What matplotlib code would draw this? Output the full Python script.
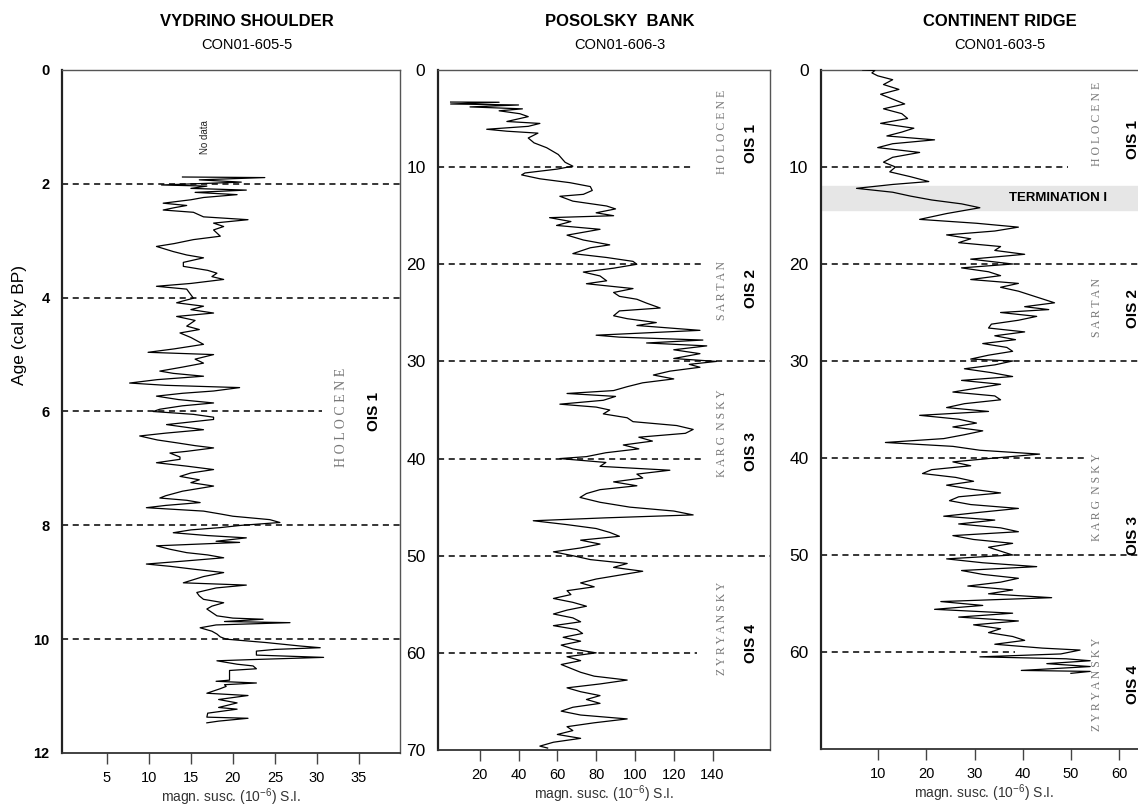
import numpy as np
import matplotlib
matplotlib.use("Agg")
import matplotlib.pyplot as plt

plt.rcParams['font.family'] = ['Liberation Sans', 'DejaVu Sans']
plt.rcParams['mathtext.default'] = 'regular'

# ---------------- data ----------------
# Vydrino Shoulder, CON01-605-5 : age (cal ky BP), magn. susc.
vyd_age = [1.88, 1.89, 1.93, 1.97, 2.02, 2.04, 2.08, 2.11, 2.15, 2.19, 2.24, 2.28, 2.34, 2.38, 2.42,
           2.46, 2.50, 2.58, 2.63, 2.69, 2.75, 2.81, 2.92, 2.98, 3.05, 3.10, 3.19, 3.25, 3.30, 3.38,
           3.45, 3.52, 3.57, 3.63, 3.68, 3.75, 3.80, 3.85, 3.95, 4.01, 4.06, 4.09, 4.15, 4.21, 4.27,
           4.33, 4.40, 4.50, 4.56, 4.62, 4.70, 4.82, 4.90, 4.96, 5.00, 5.08, 5.15, 5.22, 5.29, 5.33,
           5.38, 5.44, 5.50, 5.54, 5.58, 5.64, 5.68, 5.73, 5.79, 5.85, 5.90, 5.96, 6.00, 6.05, 6.10,
           6.14, 6.20, 6.23, 6.28, 6.32, 6.38, 6.43, 6.50, 6.55, 6.60, 6.64, 6.70, 6.73, 6.80, 6.84,
           6.90, 6.96, 7.02, 7.08, 7.14, 7.20, 7.25, 7.31, 7.40, 7.48, 7.52, 7.56, 7.60, 7.65, 7.69,
           7.75, 7.80, 7.84, 7.90, 7.95, 8.00, 8.04, 8.08, 8.13, 8.18, 8.22, 8.28, 8.30, 8.36, 8.42,
           8.48, 8.52, 8.57, 8.63, 8.68, 8.72, 8.77, 8.83, 8.90, 9.01, 9.05, 9.10, 9.18, 9.24, 9.30,
           9.36, 9.42, 9.47, 9.53, 9.59, 9.63, 9.65, 9.69, 9.71, 9.75, 9.80, 9.86, 9.91, 9.96, 10.00,
           10.06, 10.12, 10.15, 10.18, 10.21, 10.28, 10.32, 10.36, 10.38, 10.44, 10.47, 10.52, 10.55,
           10.65, 10.72, 10.74, 10.77, 10.80, 10.83, 10.87, 10.95, 10.99, 11.06, 11.12, 11.20, 11.23,
           11.30, 11.37, 11.39, 11.44, 11.47]
vyd_val = [14.0, 23.8, 16.0, 21.0, 11.5, 16.9, 15.0, 21.6, 15.5, 20.5, 16.5, 15.0, 11.7, 14.5, 13.0,
           11.7, 15.3, 16.5, 21.8, 17.7, 18.9, 17.7, 18.5, 15.3, 13.0, 10.9, 12.9, 14.5, 16.5, 14.1,
           14.1, 17.0, 18.1, 17.5, 18.9, 15.0, 10.9, 14.5, 15.0, 15.3, 14.0, 13.3, 16.5, 15.0, 17.7,
           13.3, 15.5, 14.5, 16.0, 13.7, 15.0, 16.5, 13.0, 9.9, 17.7, 15.5, 16.5, 14.0, 11.3, 12.9,
           16.5, 11.0, 7.7, 12.0, 20.8, 17.7, 14.0, 10.9, 13.5, 17.7, 14.0, 11.3, 10.5, 15.3, 17.7,
           17.7, 14.0, 12.1, 14.5, 16.5, 12.0, 8.9, 11.0, 13.3, 15.5, 17.7, 14.5, 12.5, 13.7, 13.7,
           10.9, 14.5, 17.7, 15.0, 13.7, 16.0, 15.0, 17.7, 14.0, 12.0, 11.3, 14.5, 16.1, 12.0, 9.7,
           16.5, 18.5, 20.0, 24.4, 25.6, 21.0, 18.5, 15.0, 12.9, 17.0, 21.6, 18.0, 20.8, 10.9, 12.5,
           14.5, 17.0, 18.9, 14.0, 9.7, 12.5, 15.3, 18.9, 16.5, 14.1, 21.6, 18.0, 15.7, 16.0, 16.5,
           18.9, 17.5, 16.9, 17.5, 18.1, 20.0, 23.6, 19.0, 26.8, 18.0, 16.1, 17.5, 18.1, 18.5, 19.2,
           24.0, 28.0, 30.4, 25.0, 22.8, 22.8, 30.8, 22.0, 18.1, 20.5, 22.4, 22.8, 19.6,
           19.6, 19.6, 18.0, 22.8, 19.0, 19.2, 18.5, 16.9, 21.8, 18.3, 20.5, 18.3, 20.5,
           17.0, 16.9, 21.8, 18.3, 16.9]

# Posolsky Bank, CON01-606-3
pos_age = [3.3, 3.32, 3.5, 3.6, 3.8, 4.0, 4.2, 4.5, 4.8, 5.3, 5.5, 5.8, 6.1, 6.3, 6.5, 7.0, 7.5, 8.0,
           8.7, 9.5, 9.9, 10.2, 10.6, 10.8, 11.2, 11.6, 12.0, 12.4, 12.8, 13.0, 13.5, 14.0, 14.3,
           14.7, 15.0, 15.2, 15.6, 16.0, 16.4, 17.0, 17.5, 18.0, 18.3, 18.9, 19.3, 19.7, 20.0, 20.4,
           20.8, 21.2, 21.7, 22.0, 22.5, 22.9, 23.3, 23.6, 24.0, 24.5, 24.8, 25.3, 25.6, 26.0, 26.3,
           26.8, 27.1, 27.3, 27.5, 27.8, 28.1, 28.4, 28.8, 29.2, 29.7, 30.0, 30.3, 30.6, 31.0, 31.4,
           31.8, 32.2, 32.6, 33.0, 33.3, 33.6, 34.0, 34.4, 34.7, 35.0, 35.4, 35.8, 36.2, 36.6, 37.0,
           37.4, 37.8, 38.2, 38.6, 39.0, 39.4, 39.8, 40.0, 40.4, 40.8, 41.2, 41.6, 42.0, 42.4, 42.8,
           43.2, 43.6, 44.0, 44.5, 45.0, 45.4, 45.8, 46.1, 46.4, 46.8, 47.2, 47.6, 48.0, 48.4, 48.8,
           49.2, 49.6, 50.0, 50.4, 50.8, 51.2, 51.6, 52.0, 52.4, 52.8, 53.2, 53.6, 54.0, 54.4, 54.8,
           55.2, 55.6, 56.0, 56.4, 56.8, 57.2, 57.6, 58.0, 58.4, 58.8, 59.2, 59.6, 60.0, 60.4, 60.8,
           61.2, 61.6, 62.0, 62.4, 62.8, 63.2, 63.6, 64.0, 64.4, 64.8, 65.2, 65.6, 66.0, 66.4, 66.8,
           67.2, 67.6, 68.0, 68.4, 68.8, 69.2, 69.6, 69.8]
pos_val = [5, 30, 5, 40, 15, 42, 30, 40.7, 45, 34, 51, 45, 23.6, 34, 50, 45, 48, 54.5,
           60.5, 64, 68, 60, 43.3, 41.6, 51, 66.5, 77, 78, 73.4, 61.3, 68, 85.4, 90,
           80, 89, 56, 67, 59.6, 82, 65, 73.4, 87, 77, 68, 85.4, 99, 101, 89,
           73.4, 82, 85.4, 75, 99, 89, 92, 101, 106, 113, 92, 89, 96, 111, 101,
           133.5, 102, 80, 92, 135, 106, 137, 120, 133.5, 120, 142, 128, 133.5, 118, 109.5,
           120, 104, 96, 89, 65, 90, 83.7, 61.3, 80, 87, 83.7, 96, 99, 121.5, 130,
           126, 102, 109, 94, 102, 85, 75, 61.3, 85, 82, 118, 101, 104, 89, 101,
           82, 75, 71.7, 82, 97.4, 120, 130, 85, 47.6, 65, 80, 87, 92, 72, 82,
           72, 58, 68, 77, 96, 89, 104, 92, 80, 72, 79, 65, 67, 58, 68,
           75, 65, 58, 68, 72, 58, 70, 73, 63, 72, 62, 68, 80, 65, 72,
           62, 67, 72, 79, 96, 82, 65, 72, 82, 75, 82, 68, 62, 72, 96,
           79, 65, 68, 60, 72, 58, 51, 55]

# Continent Ridge, CON01-603-5
con_age = [0.0, 0.05, 0.3, 0.6, 1.0, 1.5, 2.0, 2.5, 3.0, 3.5, 4.0, 4.5, 5.0, 5.5, 6.0, 6.4, 6.8, 7.2,
           7.6, 8.0, 8.5, 9.0, 9.5, 10.0, 10.5, 11.0, 11.5, 11.8, 12.2, 12.6, 13.0, 13.4, 13.8, 14.2,
           14.8, 15.4, 15.8, 16.2, 16.6, 17.0, 17.4, 17.8, 18.2, 18.6, 19.0, 19.5, 20.0, 20.4, 20.8,
           21.2, 21.6, 22.0, 22.4, 22.8, 23.2, 23.6, 24.0, 24.4, 24.7, 25.0, 25.4, 25.8, 26.2, 26.6,
           27.0, 27.4, 27.8, 28.2, 28.6, 29.0, 29.4, 29.8, 30.0, 30.4, 30.8, 31.2, 31.6, 32.0, 32.4,
           32.8, 33.2, 33.6, 34.0, 34.4, 34.8, 35.2, 35.6, 36.0, 36.4, 36.8, 37.2, 37.6, 38.0, 38.4,
           38.8, 39.2, 39.6, 40.0, 40.4, 40.8, 41.2, 41.6, 42.0, 42.4, 42.8, 43.2, 43.6, 44.0, 44.4,
           44.8, 45.2, 45.6, 46.0, 46.4, 46.8, 47.2, 47.6, 48.0, 48.4, 48.8, 49.2, 49.6, 50.0, 50.4,
           50.8, 51.2, 51.6, 52.0, 52.4, 52.8, 53.2, 53.6, 54.0, 54.4, 54.8, 55.2, 55.6, 56.0, 56.4,
           56.8, 57.2, 57.6, 58.0, 58.4, 58.8, 59.2, 59.6, 59.8, 60.2, 60.5, 60.7, 60.9, 61.2, 61.5,
           61.9, 62.0, 62.2]
con_val = [6.8, 9.3, 8.7, 9.9, 13.0, 11.1, 14.3, 10.5, 13.0, 15.5, 11.1, 14.9, 16.1, 10.5, 17.4, 14.9, 11.8, 21.7,
           13.0, 9.9, 18.6, 13.0, 11.1, 13.6, 12.4, 16.7, 20.5, 13.0, 5.5, 13.0, 16.7, 21.1, 27.3, 31.1,
           24.2, 18.6, 30.4, 39.1, 34.2, 24.2, 29.2, 26.7, 35.4, 34.2, 40.4, 29.2, 37.9, 27.3, 32.9,
           35.4, 29.2, 39.1, 35.4, 39.1, 41.6, 44.1, 46.6, 40.4, 45.4, 35.4, 42.9, 39.1, 33.5, 32.9,
           40.4, 34.2, 38.5, 31.7, 36.7, 37.9, 32.9, 29.2, 37.9, 34.2, 27.9, 33.5, 37.9, 27.3, 35.4,
           30.4, 25.5, 34.2, 35.4, 27.9, 24.2, 32.9, 18.6, 26.7, 30.4, 25.5, 31.7, 27.9, 23.6, 11.5,
           25.5, 31.1, 43.5, 34.2, 25.5, 29.2, 21.1, 19.2, 26.1, 29.8, 24.2, 29.2, 35.4, 26.7, 24.8,
           29.2, 39.1, 31.1, 23.6, 34.2, 26.7, 35.4, 39.1, 25.5, 29.8, 37.9, 32.9, 35.4, 37.9, 24.2,
           31.7, 42.9, 27.3, 31.7, 39.1, 35.4, 28.6, 37.9, 32.9, 46.0, 23.0, 31.7, 21.7, 37.9, 26.7,
           39.1, 29.8, 35.4, 32.9, 37.9, 40.4, 34.2, 44.1, 51.9, 47.9, 31.1, 49.0, 54.0, 45.0, 54.0,
           39.7, 54.0, 50.0]

titles = ["VYDRINO SHOULDER", "POSOLSKY  BANK", "CONTINENT RIDGE"]
cores = ["CON01-605-5", "CON01-606-3", "CON01-603-5"]
xticks = [[5, 10, 15, 20, 25, 30, 35], [20, 40, 60, 80, 100, 120, 140], [10, 20, 30, 40, 50, 60]]
yticks = [[0, 2, 4, 6, 8, 10, 12], [0, 10, 20, 30, 40, 50, 60, 70], [0, 10, 20, 30, 40, 50, 60]]
bounds = [[2, 4, 6, 8, 10], [10, 20, 30, 40, 50, 60], [10, 20, 30, 40, 50, 60]]

# ---------------- layout ----------------
W, H = 1138, 809
fig = plt.figure(figsize=(W / 100, H / 100), dpi=100)


def box(l, r, t, b):
    return [l / W, 1 - b / H, (r - l) / W, (b - t) / H]


axes = [fig.add_axes(box(62, 400, 70, 753)),
        fig.add_axes(box(438, 770, 70, 750)),
        fig.add_axes(box(821, 1148, 70, 749))]
xlims = [(-0.35, 39.9), (-1.5, 169.6), (-1.87, 66)]
ylims = [(12, 0), (70, 0), (70, 0)]
dash_end = [[None, None, 30.6, None, None],
            [130, 134.5, None, 134.5, None, 132],
            [49.4, None, None, 52.7, None, 38.4]]
title_x = [247, 620, 1000]
series = [(vyd_val, vyd_age), (pos_val, pos_age), (con_val, con_age)]

for i, ax in enumerate(axes):
    ax.set_xlim(*xlims[i])
    ax.set_ylim(*ylims[i])
    ax.set_xticks(xticks[i])
    ax.set_yticks(yticks[i])
    ax.tick_params(axis='x', direction='out', length=8, width=1, color='#444444',
                   labelsize=10.5, pad=5)
    ax.tick_params(axis='y', length=0, pad=9,
                   labelsize=10.5 if i == 0 else 12.5)
    if i == 0:
        for lab in ax.get_yticklabels():
            lab.set_fontweight('bold')
    for s in ax.spines.values():
        s.set_color('#555555')
        s.set_linewidth(1.0)
    ax.spines['left'].set_color('#222222')
    ax.spines['left'].set_linewidth(1.6)
    ax.spines['bottom'].set_color('#333333')
    ax.spines['bottom'].set_linewidth(1.3)
    if i == 2:
        ax.spines['right'].set_visible(False)
    ax.set_xlabel(r"magn. susc. (10$^{-6}$) S.I.", fontsize=10, color='#333333', labelpad=1)

    for b, e in zip(bounds[i], dash_end[i]):
        x1 = xlims[i][1] if e is None else e
        ax.plot([xlims[i][0], x1], [b, b], color='black', lw=1.1,
                ls=(0, (4, 3)), zorder=2)

    ax.plot(series[i][0], series[i][1], color='black', lw=0.9, zorder=3)

    fig.text(title_x[i] / W, 1 - 22 / H, titles[i], ha='center', va='center',
             fontsize=12, fontweight='bold')
    fig.text(title_x[i] / W, 1 - 45 / H, cores[i], ha='center', va='center',
             fontsize=10.5)

fig.text(20 / W, 1 - 325 / H, "Age (cal ky BP)", rotation=90, ha='center', va='center',
         fontsize=12.5)

serif = dict(family='Liberation Serif', color='#777777', rotation=90,
             ha='center', va='center')
ois = dict(fontweight='bold', fontsize=11, rotation=90, ha='center', va='center')

# panel 1 labels
a = axes[0]
a.text(16.7, 1.18, "No data", fontsize=7, rotation=90, ha='center', va='center', color='#222222')
a.text(32.9, 6.1, "H O L O C E N E", fontsize=10, **serif)
a.text(36.8, 6.0, "OIS 1", **ois)

# panel 2 labels
a = axes[1]
for txt, y in [("H O L O C E N E", 6.4), ("S A R T A N", 22.7), ("K A R G  N S K Y", 37.4),
               ("Z Y R Y A N S K Y", 57.5)]:
    a.text(145, y, txt, fontsize=8.5, **serif)
for txt, y in [("OIS 1", 7.6), ("OIS 2", 22.5), ("OIS 3", 39.3), ("OIS 4", 59.0)]:
    a.text(160, y, txt, **ois)

# panel 3 labels
a = axes[2]
a.axhspan(12.0, 14.4, color='#e6e6e6', zorder=1)
a.text(47.3, 13.2, "TERMINATION I", fontsize=9.5, fontweight='bold', ha='center',
       va='center', zorder=4)
for txt, y in [("H O L O C E N E", 5.6), ("S A R T A N", 24.5), ("K A R G  N S K Y", 44.0),
               ("Z Y R Y A N S K Y", 63.3)]:
    a.text(55.5, y, txt, fontsize=8.5, **serif)
for txt, y in [("OIS 1", 7.2), ("OIS 2", 24.6), ("OIS 3", 48.0), ("OIS 4", 63.4)]:
    a.text(62.8, y, txt, **ois)

fig.savefig("out.png", dpi=100)
